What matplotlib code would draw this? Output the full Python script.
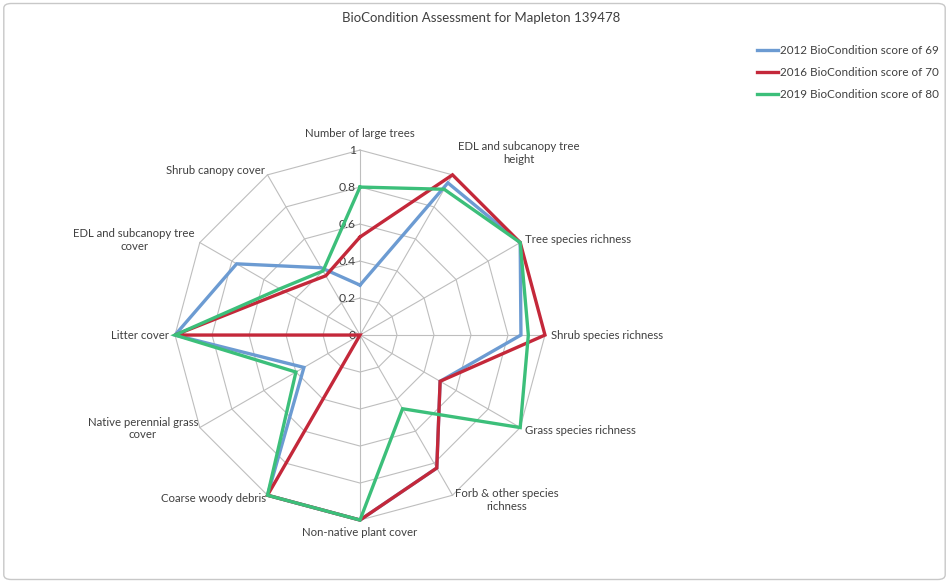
#!/usr/bin/env python
"""BioCondition radar chart for Mapleton 139478"""
import numpy as np
import matplotlib
matplotlib.use('Agg')
import matplotlib.pyplot as plt
from matplotlib.patches import FancyBboxPatch
from matplotlib import transforms

plt.rcParams['font.family'] = ['Lato', 'DejaVu Sans']

# ---- Data ----
categories = [
    'Number of large trees', 'EDL and subcanopy tree\nheight', 'Tree species richness',
    'Shrub species richness', 'Grass species richness', 'Forb & other species\nrichness',
    'Non-native plant cover', 'Coarse woody debris', 'Native perennial grass\ncover',
    'Litter cover', 'EDL and subcanopy tree\ncover', 'Shrub canopy cover',
]
s2012 = [0.27, 0.95, 1.0, 0.87, 0.5, 0.83, 1.0, 1.0, 0.35, 1.0, 0.77, 0.42]
s2016 = [0.53, 1.0, 1.0, 1.0, 0.5, 0.83, 1.0, 1.0, 0.0, 1.0, 0.47, 0.37]
s2019 = [0.8, 0.91, 1.0, 0.91, 1.0, 0.46, 1.0, 1.0, 0.4, 1.0, 0.5, 0.4]
series_labels = ['2012 BioCondition score of 69', '2016 BioCondition score of 70',
                 '2019 BioCondition score of 80']
ring_ticks = [0, 0.2, 0.4, 0.6, 0.8, 1.0]
ring_labels = ['0', '0.2', '0.4', '0.6', '0.8', '1']

colors = ['#6C9BD2', '#C4283A', '#3CBF7A']
grid_c = '#BEBEBE'
text_c = '#404040'

n = len(categories)
angles = np.linspace(0, 2 * np.pi, n, endpoint=False)
closed = np.append(angles, angles[0])

# ---- Plot ----
fig = plt.figure(figsize=(9.49, 5.83), dpi=100)
ax = fig.add_axes([0.1844, 0.108, 0.3899, 0.6346], projection='polar')
ax.set_theta_zero_location('N')
ax.set_theta_direction(-1)
ax.set_ylim(0, 1)
ax.grid(False)
ax.set_xticks([])
ax.set_yticks([])
ax.spines['polar'].set_visible(False)
ax.patch.set_visible(False)

# polygon grid + spokes
for r in ring_ticks[1:]:
    ax.plot(closed, [r] * (n + 1), color=grid_c, lw=0.8, zorder=1, clip_on=False)
for a in angles:
    ax.plot([a, a], [0, 1], color=grid_c, lw=0.8, zorder=1, clip_on=False)

handles = []
for vals, c, lab, z in zip([s2012, s2016, s2019], colors, series_labels, [3, 4, 5]):
    v = np.append(vals, vals[0])
    h, = ax.plot(closed, v, color=c, lw=2.4, label=lab, zorder=z, clip_on=False,
                 solid_joinstyle='miter')
    handles.append(h)

# ring value labels along the top spoke
off = transforms.offset_copy(ax.transData, fig=fig, x=-3, y=0, units='points')
for r, t in zip(ring_ticks, ring_labels):
    ax.text(0, r, t, transform=off, ha='right', va='center', fontsize=8.8, color=text_c)

# category labels
label_pos = [
    (1.06, 'center', 'bottom'), (1.06, 'left', 'bottom'), (1.03, 'left', 'center'),
    (1.03, 'left', 'center'), (1.03, 'left', 'center'), (1.03, 'left', 'center'),
    (1.04, 'center', 'top'), (1.02, 'right', 'center'), (1.01, 'right', 'center'),
    (1.03, 'right', 'center'), (1.03, 'right', 'center'), (1.03, 'right', 'center'),
]
for a, lab, (r, ha, va) in zip(angles, categories, label_pos):
    ax.text(a, r, lab, ha=ha, va=va, fontsize=8.2, color=text_c, multialignment='center')

fig.text(481 / 949, 1 - 18 / 583, 'BioCondition Assessment for Mapleton 139478',
         ha='center', va='center', fontsize=9.5, color=text_c)

fig.legend(handles=handles, loc='upper left', bbox_to_anchor=(757 / 949, 1 - 45 / 583),
           frameon=False, fontsize=8.4, handlelength=1.8, labelspacing=0.95,
           handletextpad=0.2, borderpad=0, borderaxespad=0, labelcolor=text_c)

border = FancyBboxPatch((0.004, 0.006), 0.992, 0.988, transform=fig.transFigure,
                        boxstyle='round,pad=0,rounding_size=0.008',
                        fc='none', ec='#C8C8C8', lw=1)
fig.patches.append(border)

plt.savefig('out.png', dpi=100)
plt.close()
